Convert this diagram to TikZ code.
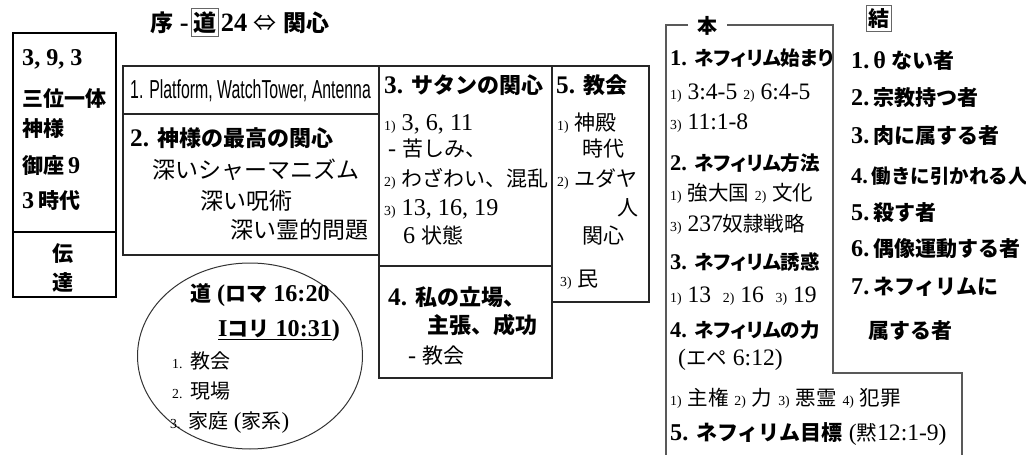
\documentclass[tikz,border=0pt]{standalone}
\usepackage{fontspec}
\usetikzlibrary{shapes.geometric}
\setmainfont{Liberation Serif}[Scale=1.15]
\newfontfamily\jpnorm{Noto Sans CJK JP}
\newfontfamily\jppalt{Noto Sans CJK JP}[RawFeature=+palt]
\def\jpfont{\jpnorm}
\newfontfamily\cond{Liberation Sans}[FakeStretch=0.61]
% automatic switch to the Japanese font for CJK characters
\XeTeXinterchartokenstate=1
\newXeTeXintercharclass\CJKcls
\def\setcjkrange#1#2{\count255=#1 \loop\XeTeXcharclass\count255=\CJKcls\relax\ifnum\count255<#2 \advance\count255 by 1 \repeat}
\setcjkrange{"3000}{"30FF}
\setcjkrange{"4E00}{"9FFF}
\setcjkrange{"FF00}{"FFEF}
\XeTeXcharclass"21D4=\CJKcls
\XeTeXinterchartoks 0 \CJKcls = {\jpfont}
\XeTeXinterchartoks 4095 \CJKcls = {\jpfont}
\XeTeXinterchartoks \CJKcls 0 = {\rmfamily}
\XeTeXinterchartoks \CJKcls 4095 = {\rmfamily}
\newcommand\nn[1]{{\fontsize{12}{12}\selectfont #1}}
\tikzset{
  tx/.style={anchor=base west, inner sep=0pt, font=\fontsize{21}{21}\selectfont},
  tw/.style={anchor=base west, inner sep=0pt, font=\fontsize{23}{23}\selectfont},
  hd/.style={anchor=base west, inner sep=0pt, font=\fontsize{22}{22}\selectfont\bfseries},
  lb/.style={anchor=base west, inner sep=0pt, font=\fontsize{21}{21}\selectfont\bfseries},
  rt/.style={anchor=base west, inner sep=0pt, font=\fontsize{20.5}{20.5}\selectfont},
  rh/.style={anchor=base west, inner sep=0pt, font=\fontsize{19.5}{19.5}\selectfont\bfseries\let\jpfont\jppalt},
  et/.style={anchor=base west, inner sep=0pt, font=\fontsize{20}{20}\selectfont},
  eh/.style={anchor=base west, inner sep=0pt, font=\fontsize{21}{21}\selectfont\bfseries},
  kt/.style={anchor=base west, inner sep=0pt, font=\fontsize{21}{21}\selectfont\bfseries},
  leftframe/.style={draw=black, line width=2pt},
  midframe/.style={draw=black!85, line width=1.2pt},
  honframe/.style={draw=black!65, line width=1.5pt},
}
\begin{document}
\begin{tikzpicture}[x=1pt,y=-1pt]
\useasboundingbox (0,0) rectangle (1026,455);
% ---------- title
\node[lb, font=\fontsize{23}{23}\selectfont\bfseries] (t1) at (150,31) {序 -};
\node[anchor=base west, font=\fontsize{23}{23}\selectfont\bfseries, draw=black!60, line width=0.9pt, inner xsep=2pt, inner ysep=3pt] (t2) at ([xshift=2pt]t1.base east) {道};
\node[lb, font=\fontsize{23}{23}\selectfont\bfseries] (t3) at ([xshift=2pt]t2.base east) {24 {\mdseries ⇔} 関心};
% ---------- left box
\draw[leftframe] (13,33) rectangle (116,297);
\draw[leftframe] (13,232) -- (116,232);
\node[lb] (l1) at (22,65) {3, 9, 3};
\node[lb] (l2) at (22,106) {三位一体};
\node[lb] (l3) at (22,136) {神様};
\node[lb] (l4) at (22,173) {御座\,9};
\node[lb] (l5) at (22,208) {3\,時代};
\node[lb, anchor=base] (l6) at (63,261) {伝};
\node[lb, anchor=base] (l7) at (63,290) {達};
% ---------- middle boxes
\draw[midframe] (123,66) rectangle (379,114);
\draw[midframe] (123,114) rectangle (379,255);
\draw[midframe] (379,66) rectangle (552,266);
\draw[midframe] (379,266) rectangle (552,378);
\draw[midframe] (552,66) rectangle (649,302);
\node[anchor=base west, inner sep=0pt, font=\fontsize{26}{26}\cond] (b1) at (130,98) {1. Platform, WatchTower, Antenna};
\node[hd] (b2) at (130,146) {2. 神様の最高の関心};
\node[tw] (b2a) at (152,178) {深いシャーマニズム};
\node[tw] (b2b) at (200,209) {深い呪術};
\node[tw] (b2c) at (230,238) {深い霊的問題};
\node[hd] (b3) at (384,93) {3. サタンの関心};
\node[tx] (b3a) at (384,130) {\nn{1)} 3, 6, 11};
\node[tx] (b3b) at (388,156) {- 苦しみ、};
\node[tx] (b3c) at (384,186) {\nn{2)} わざわい、混乱};
\node[tx] (b3d) at (384,215) {\nn{3)} 13, 16, 19};
\node[tx] (b3e) at (403,243) {6 状態};
\node[hd] (b5) at (556,93) {5. 教会};
\node[tx] (b5a) at (557,130) {\nn{1)} 神殿};
\node[tx] (b5b) at (582,156) {時代};
\node[tx] (b5c) at (557,186) {\nn{2)} ユダヤ};
\node[tx] (b5d) at (617,215) {人};
\node[tx] (b5e) at (582,243) {関心};
\node[tx] (b5f) at (560,286) {\nn{3)} 民};
\node[hd] (b4) at (388,305) {4. 私の立場、};
\node[hd] (b4a) at (427,333) {主張、成功};
\node[tx] (b4b) at (408,363) {- 教会};
% ---------- ellipse
\node[ellipse, draw=black!80, line width=1pt, minimum width=225pt, minimum height=186pt, inner sep=0pt] (ell) at (250,356) {};
\node[eh] (e1) at (190,301) {道 (ロマ 16:20};
\node[eh] (e2) at (218,336) {\underline{Iコリ 10:31})};
\node[et] (e3) at (172,368) {\nn{1.} 教会};
\node[et] (e4) at (172,398) {\nn{2.} 現場};
\node[et] (e5) at (170,428) {\nn{3.} 家庭 (家系)};
% ---------- 本 box
\node[anchor=base, inner sep=0pt, font=\fontsize{20}{20}\selectfont\bfseries] (hon) at (707,33) {本};
\coordinate (h1) at (688,25);
\coordinate (h2) at (727,25);
\draw[honframe] (h1) -- (666,25) -- (666,460);
\draw[honframe] (h2) -- (833,25) -- (833,373) -- (962,373) -- (962,460);
\node[rh] (r1) at (670,65) {1. ネフィリム始まり};
\node[rt] (r1a) at (670,99) {\nn{1)} 3:4-5 \nn{2)} 6:4-5};
\node[rt] (r1b) at (670,129) {\nn{3)} 11:1-8};
\node[rh] (r2) at (670,170) {2. ネフィリム方法};
\node[rt] (r2a) at (670,200) {\nn{1)} 強大国 \nn{2)} 文化};
\node[rt] (r2b) at (670,231) {\nn{3)} 237奴隷戦略};
\node[rh] (r3) at (670,269) {3. ネフィリム誘惑};
\node[rt] (r3a) at (670,302) {\nn{1)} 13 \ \nn{2)} 16 \ \nn{3)} 19};
\node[rh] (r4) at (670,337) {4. ネフィリムの力};
\node[rt] (r4a) at (678,365) {(エペ 6:12)};
\node[rt] (r4b) at (670,405) {\nn{1)} 主権 \nn{2)} 力 \nn{3)} 悪霊 \nn{4)} 犯罪};
\node[rt] (r5) at (670,440) {{\fontsize{21}{21}\selectfont\bfseries 5. ネフィリム目標} (黙12:1-9)};
% ---------- 結 column
\node[anchor=base, inner xsep=2pt, inner ysep=3pt, draw=black!60, line width=0.9pt, font=\fontsize{21}{21}\selectfont\bfseries] (ketsu) at (879,26) {結};
\node[kt] (k1) at (851,68) {1.\,θ ない者};
\node[kt] (k2) at (851,105) {2.\,宗教持つ者};
\node[kt] (k3) at (851,143) {3.\,肉に属する者};
\node[kt, font=\fontsize{19.5}{19.5}\selectfont\bfseries] (k4) at (851,183) {4.\,働きに引かれる人};
\node[kt] (k5) at (851,220) {5.\,殺す者};
\node[kt] (k6) at (851,256) {6.\,偶像運動する者};
\node[kt] (k7) at (851,294) {7.\,ネフィリムに};
\node[kt] (k8) at (868,338) {属する者};
\end{tikzpicture}
\end{document}
